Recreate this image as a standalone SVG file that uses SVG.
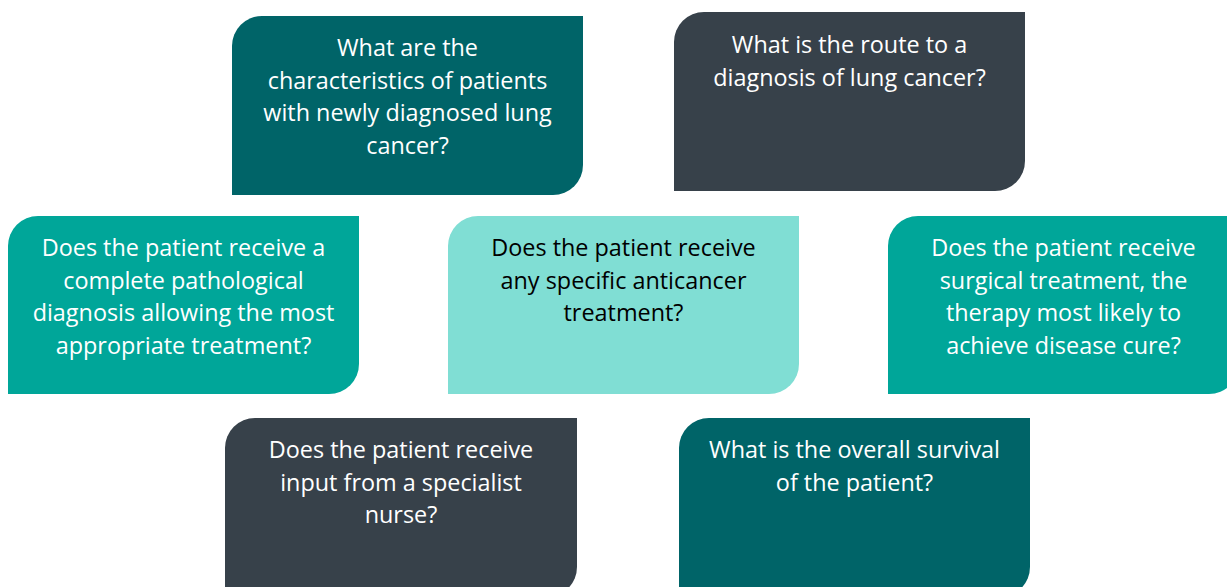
<svg xmlns="http://www.w3.org/2000/svg" width="1227" height="587" viewBox="0 0 1227 587">
<style>
.t{font-family:"Open Sans","Liberation Sans",sans-serif;font-size:23.4px;text-anchor:middle}
.w{fill:#ffffff}
.k{fill:#000000}
.dt{fill:#006468}
.gr{fill:#37414a}
.tl{fill:#00a699}
.lt{fill:#80ded4}
</style>
<rect width="1227" height="587" fill="#ffffff"/>
<g id="connectors"></g>
<g id="node-characteristics">
<path class="dt" d="M262,16 H583 V165 A30,30 0 0 1 553,195 H232 V46 A30,30 0 0 1 262,16 Z"/>
<text class="t w"><tspan x="407.5" y="56">What are the</tspan><tspan x="407.5" y="88.5">characteristics of patients</tspan><tspan x="407.5" y="121">with newly diagnosed lung</tspan><tspan x="407.5" y="153.5">cancer?</tspan></text>
</g>
<g id="node-route">
<path class="gr" d="M704,12 H1025 V161 A30,30 0 0 1 995,191 H674 V42 A30,30 0 0 1 704,12 Z"/>
<text class="t w"><tspan x="849.5" y="53">What is the route to a</tspan><tspan x="849.5" y="85.5">diagnosis of lung cancer?</tspan></text>
</g>
<g id="node-pathological">
<path class="tl" d="M38,216 H359 V364 A30,30 0 0 1 329,394 H8 V246 A30,30 0 0 1 38,216 Z"/>
<text class="t w"><tspan x="183.5" y="256">Does the patient receive a</tspan><tspan x="183.5" y="288.5">complete pathological</tspan><tspan x="183.5" y="321">diagnosis allowing the most</tspan><tspan x="183.5" y="353.5">appropriate treatment?</tspan></text>
</g>
<g id="node-anticancer">
<path class="lt" d="M478,216 H799 V364 A30,30 0 0 1 769,394 H448 V246 A30,30 0 0 1 478,216 Z"/>
<text class="t k"><tspan x="623.5" y="256">Does the patient receive</tspan><tspan x="623.5" y="288.5">any specific anticancer</tspan><tspan x="623.5" y="321">treatment?</tspan></text>
</g>
<g id="node-surgical">
<path class="tl" d="M918,216 H1239 V364 A30,30 0 0 1 1209,394 H888 V246 A30,30 0 0 1 918,216 Z"/>
<text class="t w"><tspan x="1063.5" y="256">Does the patient receive</tspan><tspan x="1063.5" y="288.5">surgical treatment, the</tspan><tspan x="1063.5" y="321">therapy most likely to</tspan><tspan x="1063.5" y="353.5">achieve disease cure?</tspan></text>
</g>
<g id="node-nurse">
<path class="gr" d="M255,418 H577 V567 A30,30 0 0 1 547,597 H225 V448 A30,30 0 0 1 255,418 Z"/>
<text class="t w"><tspan x="401" y="458">Does the patient receive</tspan><tspan x="401" y="490.5">input from a specialist</tspan><tspan x="401" y="523">nurse?</tspan></text>
</g>
<g id="node-survival">
<path class="dt" d="M709,418 H1030 V567 A30,30 0 0 1 1000,597 H679 V448 A30,30 0 0 1 709,418 Z"/>
<text class="t w"><tspan x="854.5" y="458">What is the overall survival</tspan><tspan x="854.5" y="490.5">of the patient?</tspan></text>
</g>
</svg>
